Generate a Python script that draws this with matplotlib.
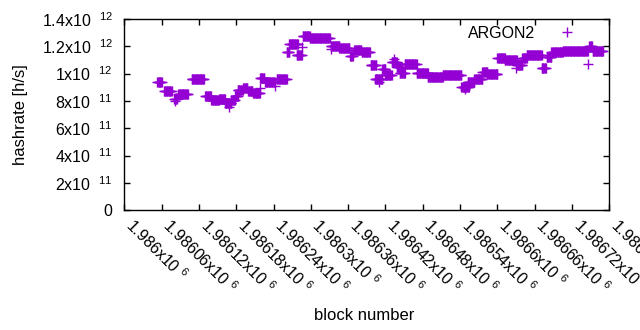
import numpy as np
import matplotlib
matplotlib.use("Agg")
import matplotlib.pyplot as plt
from matplotlib.ticker import FixedLocator, FuncFormatter

plt.rcParams['font.family'] = ['Liberation Sans', 'DejaVu Sans']
plt.rcParams['mathtext.fontset'] = 'custom'
plt.rcParams['mathtext.rm'] = 'Liberation Sans'
plt.rcParams['mathtext.default'] = 'regular'

BASE_BLOCK = 1986000
# constant-hashrate runs: (first block offset, last block offset, hashrate)
seg_start = [53, 64, 80, 87, 108, 130, 140, 152, 162, 172, 178, 182, 191, 199, 207, 218, 226, 245, 261, 265,
             277, 287, 298, 332, 346, 363, 370, 382, 396, 403, 415, 420, 430, 438, 443, 451, 470, 488, 512, 542,
             552, 563, 576, 584, 600, 612, 631, 640, 647, 671, 679, 687, 705, 748, 753]
seg_end = [60, 76, 84, 102, 128, 139, 152, 162, 172, 178, 182, 190, 198, 206, 218, 225, 242, 261, 265, 279,
           285, 298, 330, 346, 362, 367, 381, 395, 405, 415, 420, 430, 438, 446, 451, 470, 488, 512, 542, 554,
           563, 576, 584, 600, 612, 631, 640, 647, 671, 678, 687, 705, 745, 752, 770]
seg_value = [9.37e11, 8.75e11, 8.12e11, 8.51e11, 9.59e11, 8.34e11, 8.05e11, 8.12e11, 7.83e11, 8.07e11,
             8.36e11, 8.78e11, 8.97e11, 8.73e11, 8.56e11, 9.71e11, 9.37e11, 9.59e11, 1.157e12, 1.215e12,
             1.135e12, 1.278e12, 1.259e12, 1.205e12, 1.186e12, 1.13e12, 1.174e12, 1.157e12, 1.064e12, 9.59e11,
             1.032e12, 9.9e11, 1.088e12, 1.051e12, 1.003e12, 1.071e12, 1.003e12, 9.74e11, 9.88e11, 9.05e11,
             9.37e11, 9.59e11, 1.015e12, 9.98e11, 1.113e12, 1.098e12, 1.064e12, 1.113e12, 1.137e12, 1.04e12,
             1.125e12, 1.157e12, 1.166e12, 1.203e12, 1.166e12]
# isolated points
out_block = [82, 168, 218, 242, 285, 332, 409, 433, 548, 630, 745]
out_value = [8.0e11, 7.56e11, 8.95e11, 9.12e11, 1.198e12, 1.179e12, 9.4e11, 1.105e12, 8.9e11, 1.04e12, 1.071e12]

xticks = [BASE_BLOCK + 60 * k for k in range(14)]
yticks = [0, 2e11, 4e11, 6e11, 8e11, 1e12, 1.2e12, 1.4e12]
ytick_labels = ['0', '2x10  $^{11}$', '4x10  $^{11}$', '6x10  $^{11}$', '8x10  $^{11}$',
                '1x10  $^{12}$', '1.2x10  $^{12}$', '1.4x10  $^{12}$']

blocks = []
values = []
for s, e, v in zip(seg_start, seg_end, seg_value):
    for b in range(s, e + 1):
        blocks.append(BASE_BLOCK + b)
        values.append(v)
for b, v in zip(out_block, out_value):
    blocks.append(BASE_BLOCK + b)
    values.append(v)

L, R, B, T = 124.4, 609.3, 210.2, 19.0
W, H = R - L, B - T
fig = plt.figure(figsize=(6.4, 3.3), dpi=100)
ax = fig.add_axes([L / 640, 1 - B / 330, W / 640, H / 330])
color = '#9400D3'
ax.plot(blocks, values, linestyle='none', marker='+', color=color, markersize=6.5, markeredgewidth=1,
        label='ARGON2')

ax.set_xlim(BASE_BLOCK, BASE_BLOCK + 780)
ax.set_ylim(0, 1.4e12)
ax.xaxis.set_major_locator(FixedLocator(xticks))
ax.xaxis.set_major_formatter(FuncFormatter(lambda v, p: f'{v / 1e6:g}x10 $^{{6}}$'))
ax.yaxis.set_major_locator(FixedLocator(yticks))
ax.set_yticklabels(ytick_labels)

ax.tick_params(direction='in', length=4, width=1, top=True, right=True, labelsize=11.5, color='black')
ax.tick_params(axis='y', pad=8.5)
ax.tick_params(axis='x', pad=12)
for lab in ax.get_xticklabels():
    lab.set_rotation(-45)
    lab.set_ha('left')
    lab.set_va('baseline')
    lab.set_rotation_mode('anchor')
for sp in ax.spines.values():
    sp.set_linewidth(1)
    sp.set_color('black')

ax.set_xlabel('block number', fontsize=12)
ax.set_ylabel('hashrate [h/s]', fontsize=12)
ax.xaxis.set_label_coords((364 - L) / W, -(308 - B) / H)
ax.yaxis.set_label_coords(-(L - 28) / W, (B - 115) / H)

ax.legend(loc='upper right', bbox_to_anchor=((583 - L) / W, (B - 25.5) / H), frameon=False, markerfirst=False,
          fontsize=11.5, handlelength=2.0, handletextpad=1.0, borderaxespad=0, borderpad=0)

fig.savefig('out.png', dpi=100)
